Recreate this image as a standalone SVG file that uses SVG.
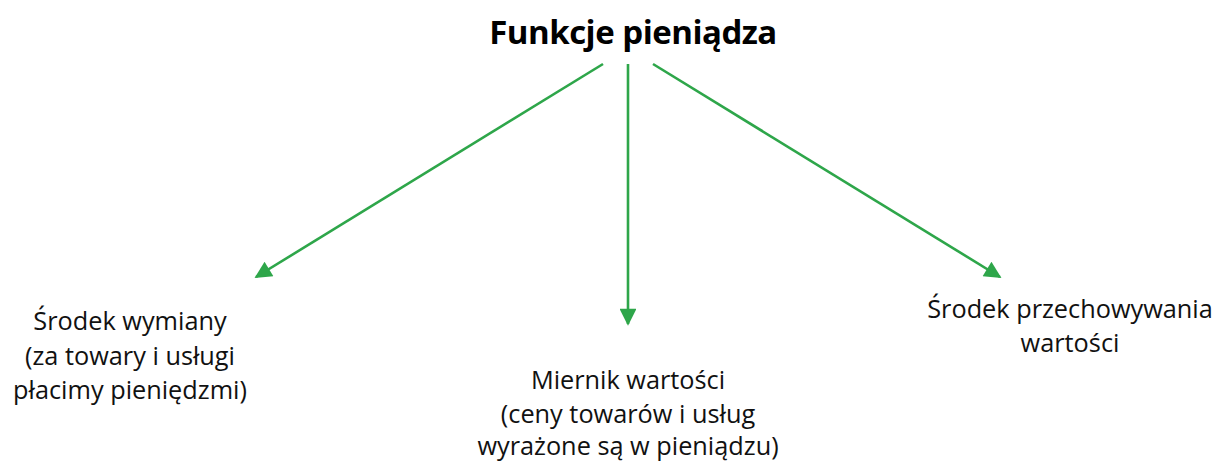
<svg xmlns="http://www.w3.org/2000/svg" width="1220" height="461" viewBox="0 0 1220 461">
<style>
.t{font-family:"Open Sans","Noto Sans",sans-serif;font-size:25.3px;fill:#111;text-anchor:middle}
.h{font-family:"Open Sans","Noto Sans",sans-serif;font-size:33px;font-weight:bold;fill:#000;text-anchor:middle;letter-spacing:-0.5px}
.c{stroke:#2ea64a;stroke-width:2.6;fill:none}
</style>
<defs>
<marker id="ah" viewBox="0 0 10 10" refX="9" refY="5" markerWidth="9" markerHeight="6.5" markerUnits="strokeWidth" orient="auto">
<path d="M0,0 L10,5 L0,10 Z" fill="#2ea64a"/>
</marker>
</defs>
<rect width="1220" height="461" fill="#fff"/>
<g id="title"><text class="h" x="633" y="44">Funkcje pieniądza</text></g>
<g id="connectors">
<line class="c" x1="603" y1="64" x2="256" y2="277" marker-end="url(#ah)"/>
<line class="c" x1="628" y1="64" x2="628" y2="324" marker-end="url(#ah)"/>
<line class="c" x1="653" y1="64" x2="1000" y2="277" marker-end="url(#ah)"/>
</g>
<g id="node-left">
<text class="t" x="130" y="330">Środek wymiany</text>
<text class="t" x="130" y="365">(za towary i usługi</text>
<text class="t" x="130" y="399">płacimy pieniędzmi)</text>
</g>
<g id="node-middle">
<text class="t" x="628" y="389">Miernik wartości</text>
<text class="t" x="628" y="423">(ceny towarów i usług</text>
<text class="t" x="628" y="455">wyrażone są w pieniądzu)</text>
</g>
<g id="node-right">
<text class="t" x="1070" y="318">Środek przechowywania</text>
<text class="t" x="1070" y="352">wartości</text>
</g>
</svg>
